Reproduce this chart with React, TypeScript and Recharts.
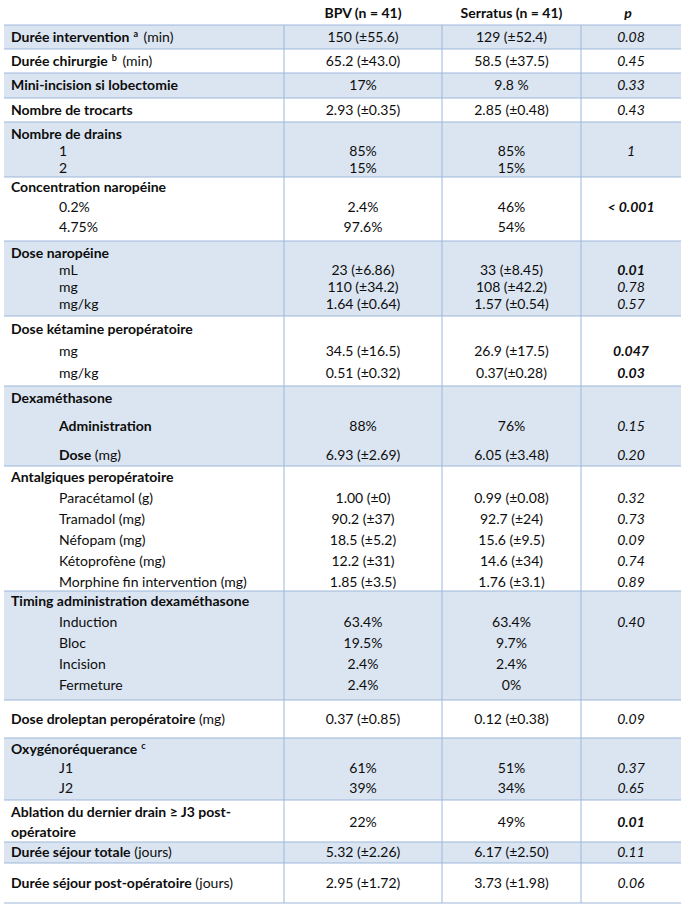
import { ComposedChart, XAxis, YAxis, Scatter, ReferenceArea, ReferenceLine } from "recharts";

// table content
const HEADERS = ["BPV (n = 41)", "Serratus (n = 41)", "p"];

const GROUP_SIZES = [1, 1, 1, 1, 3, 3, 4, 3, 3, 6, 5, 1, 3, 1, 1, 1];

const LABELS = [
  "Durée intervention",
  "Durée chirurgie",
  "Mini-incision si lobectomie",
  "Nombre de trocarts",
  "Nombre de drains", "1", "2",
  "Concentration naropéine", "0.2%", "4.75%",
  "Dose naropéine", "mL", "mg", "mg/kg",
  "Dose kétamine peropératoire", "mg", "mg/kg",
  "Dexaméthasone", "Administration", "Dose",
  "Antalgiques peropératoire", "Paracétamol (g)", "Tramadol (mg)", "Néfopam (mg)", "Kétoprofène (mg)", "Morphine fin intervention (mg)",
  "Timing administration dexaméthasone", "Induction", "Bloc", "Incision", "Fermeture",
  "Dose droleptan peropératoire",
  "Oxygénoréquerance", "J1", "J2",
  "Ablation du dernier drain ≥ J3 post-\nopératoire",
  "Durée séjour totale",
  "Durée séjour post-opératoire",
];

const NOTES: Record<string, string> = {
  "Durée intervention": "(min)",
  "Durée chirurgie": "(min)",
  Dose: "(mg)",
  "Dose droleptan peropératoire": "(mg)",
  "Durée séjour totale": "(jours)",
  "Durée séjour post-opératoire": "(jours)",
};

const SUPS: Record<string, string> = {
  "Durée intervention": "a",
  "Durée chirurgie": "b",
  "Oxygénoréquerance": "c",
};

const BOLD_SUBITEMS = ["Administration", "Dose"];

const BPV = [
  "150 (±55.6)", "65.2 (±43.0)", "17%", "2.93 (±0.35)",
  "", "85%", "15%",
  "", "2.4%", "97.6%",
  "", "23 (±6.86)", "110 (±34.2)", "1.64 (±0.64)",
  "", "34.5 (±16.5)", "0.51 (±0.32)",
  "", "88%", "6.93 (±2.69)",
  "", "1.00 (±0)", "90.2 (±37)", "18.5 (±5.2)", "12.2 (±31)", "1.85 (±3.5)",
  "", "63.4%", "19.5%", "2.4%", "2.4%",
  "0.37 (±0.85)",
  "", "61%", "39%",
  "22%",
  "5.32 (±2.26)",
  "2.95 (±1.72)",
];

const SERRATUS = [
  "129 (±52.4)", "58.5 (±37.5)", "9.8 %", "2.85 (±0.48)",
  "", "85%", "15%",
  "", "46%", "54%",
  "", "33 (±8.45)", "108 (±42.2)", "1.57 (±0.54)",
  "", "26.9 (±17.5)", "0.37(±0.28)",
  "", "76%", "6.05 (±3.48)",
  "", "0.99 (±0.08)", "92.7 (±24)", "15.6 (±9.5)", "14.6 (±34)", "1.76 (±3.1)",
  "", "63.4%", "9.7%", "2.4%", "0%",
  "0.12 (±0.38)",
  "", "51%", "34%",
  "49%",
  "6.17 (±2.50)",
  "3.73 (±1.98)",
];

const P_VALUES = [
  "0.08", "0.45", "0.33", "0.43",
  "", "1", "",
  "", "< 0.001", "",
  "", "0.01", "0.78", "0.57",
  "", "0.047", "0.03",
  "", "0.15", "0.20",
  "", "0.32", "0.73", "0.09", "0.74", "0.89",
  "", "0.40", "", "", "",
  "0.09",
  "", "0.37", "0.65",
  "0.01",
  "0.11",
  "0.06",
];

// layout (pixels)
const W = 681;
const H = 907;
const TABLE_LEFT = 4;
const TABLE_TOP = 25;
const HEADER_Y = 13;
const GROUP_HEIGHTS = [24, 24, 25, 24, 55, 64, 75, 70, 80, 125, 109, 38, 62, 42, 21, 40];
const GROUP_FIRST = [12, 12, 12.5, 12, 12, 10, 12, 13, 12, 11, 10, 19, 11, 12, 10.5, 20];
const GROUP_PITCH = [0, 0, 0, 0, 17, 20, 17, 22, 28.5, 21, 21, 0, 19.5, 20, 0, 0];
const COL_LINES = [284, 442, 581];
const X_LABEL = 11;
const X_INDENT = 59;
const X_BPV = 363;
const X_SERRATUS = 511.5;
const X_P = 631;

const SHADE = "#dbe5f1";
const GRID = "#9bb7db";
const INK = "#0d0d0d";
const FONT = "Lato, 'Open Sans', sans-serif";
const FS = 14;

const isSignificant = (p: string) => p.startsWith("<") || (p !== "" && parseFloat(p) < 0.05);

// group bounds
const groupTops: number[] = [];
let acc = TABLE_TOP;
GROUP_HEIGHTS.forEach((h) => {
  groupTops.push(acc);
  acc += h;
});
const TABLE_BOTTOM = acc;

// one entry per text line, with its y
const lines: { label: string; y: number; valueY: number; heading: boolean; idx: number }[] = [];
let lineIdx = 0;
GROUP_SIZES.forEach((n, g) => {
  for (let k = 0; k < n; k++) {
    const y = groupTops[g] + GROUP_FIRST[g] + k * GROUP_PITCH[g];
    // two-line label: values sit between its lines
    const valueY = LABELS[lineIdx].includes("\n") ? y + GROUP_PITCH[g] / 2 : y;
    lines.push({ label: LABELS[lineIdx], y, valueY, heading: k === 0, idx: lineIdx });
    lineIdx++;
  }
});

const labelPoints = lines.map((l) => ({
  x: l.heading ? X_LABEL : X_INDENT,
  y: l.y,
  label: l.label,
  bold: l.heading || BOLD_SUBITEMS.includes(l.label),
}));

const columnPoints = (values: string[], x: number, italic = false) =>
  lines
    .filter((l) => values[l.idx] !== "")
    .map((l) => ({
      x,
      y: l.valueY,
      label: values[l.idx],
      bold: italic && isSignificant(values[l.idx]),
      italic,
    }));

const bpvPoints = columnPoints(BPV, X_BPV);
const serratusPoints = columnPoints(SERRATUS, X_SERRATUS);
const pPoints = columnPoints(P_VALUES, X_P, true);

const headerPoints = [
  { x: X_BPV, y: HEADER_Y, label: HEADERS[0], bold: true, italic: false },
  { x: X_SERRATUS, y: HEADER_Y, label: HEADERS[1], bold: true, italic: false },
  { x: X_P - 3, y: HEADER_Y, label: HEADERS[2], bold: true, italic: true },
];

// eslint-disable-next-line @typescript-eslint/no-explicit-any
function LabelShape({ cx, cy, payload }: any) {
  const parts = String(payload.label).split("\n");
  const note = NOTES[payload.label];
  const sup = SUPS[payload.label];
  const base = cy + FS * 0.35;
  if (parts.length > 1) {
    return (
      <text x={cx} y={base} fontFamily={FONT} fontSize={FS} fontWeight={700} fill={INK}>
        {parts.map((p, j) => (
          <tspan key={j} x={cx} dy={j === 0 ? 0 : 20}>
            {p}
          </tspan>
        ))}
      </text>
    );
  }
  return (
    <text x={cx} y={base} fontFamily={FONT} fontSize={FS} fill={INK}>
      <tspan fontWeight={payload.bold ? 700 : 400}>{payload.label}</tspan>
      {sup && (
        <tspan dx={4} dy={-5} fontSize={9} fontWeight={700}>
          {sup}
        </tspan>
      )}
      {note && <tspan dx={sup ? 2 : 0} dy={sup ? 5 : 0}>{" " + note}</tspan>}
    </text>
  );
}

// eslint-disable-next-line @typescript-eslint/no-explicit-any
function CenterShape({ cx, cy, payload }: any) {
  return (
    <text
      x={cx}
      y={cy + FS * 0.35}
      textAnchor="middle"
      fontFamily={FONT}
      fontSize={FS}
      fontWeight={payload.bold ? 700 : 400}
      fontStyle={payload.italic ? "italic" : "normal"}
      fill={INK}
    >
      {payload.label}
    </text>
  );
}

export default function App() {
  return (
    <div style={{ width: W, height: H, background: "#fff" }}>
      <style>{"body{margin:0}"}</style>
      <ComposedChart width={W} height={H} margin={{ top: 0, right: 0, bottom: 0, left: 0 }}>
        <XAxis type="number" dataKey="x" domain={[0, W]} allowDataOverflow hide />
        <YAxis type="number" dataKey="y" domain={[0, H]} allowDataOverflow reversed hide />
        {groupTops.map((top, g) =>
          g % 2 === 0 ? (
            <ReferenceArea
              key={`a${g}`}
              x1={TABLE_LEFT}
              x2={W}
              y1={top}
              y2={top + GROUP_HEIGHTS[g]}
              fill={SHADE}
              fillOpacity={1}
              stroke="none"
            />
          ) : null
        )}
        {[...groupTops, TABLE_BOTTOM].map((y, g) => (
          <ReferenceLine
            key={`h${g}`}
            segment={[
              { x: TABLE_LEFT, y },
              { x: W, y },
            ]}
            stroke={GRID}
            strokeWidth={1}
          />
        ))}
        {COL_LINES.map((x) => (
          <ReferenceLine
            key={`v${x}`}
            segment={[
              { x, y: TABLE_TOP },
              { x, y: TABLE_BOTTOM },
            ]}
            stroke={GRID}
            strokeWidth={1}
          />
        ))}
        <Scatter data={labelPoints} shape={<LabelShape />} isAnimationActive={false} />
        <Scatter data={bpvPoints} shape={<CenterShape />} isAnimationActive={false} />
        <Scatter data={serratusPoints} shape={<CenterShape />} isAnimationActive={false} />
        <Scatter data={pPoints} shape={<CenterShape />} isAnimationActive={false} />
        <Scatter data={headerPoints} shape={<CenterShape />} isAnimationActive={false} />
      </ComposedChart>
    </div>
  );
}
